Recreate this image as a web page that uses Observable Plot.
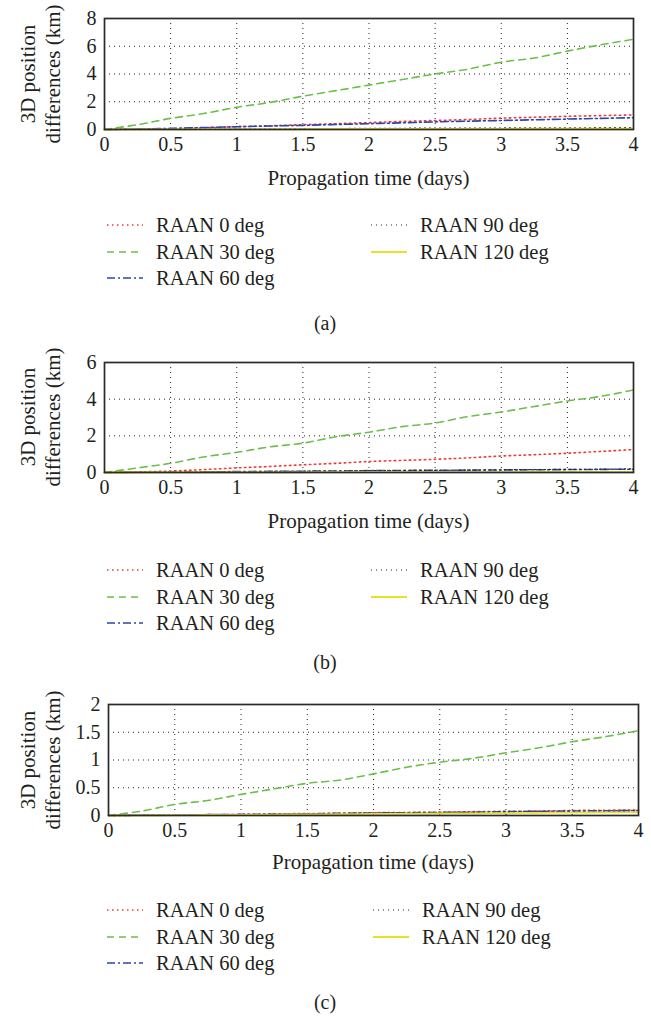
<!DOCTYPE html>
<html>
<head>
<meta charset="utf-8">
<script src="https://cdn.jsdelivr.net/npm/d3@7"></script>
<script src="https://cdn.jsdelivr.net/npm/@observablehq/plot@0.6"></script>
<style>
  html, body { margin: 0; padding: 0; background: #fff; }
  #root { position: relative; width: 651px; height: 1017px; font-family: "Liberation Serif", "DejaVu Serif", serif; color: #231f20; }
  .abs { position: absolute; }
  .xlab { font-size: 21px; text-align: center; white-space: nowrap; transform: translate(-50%, -50%); }
  .ylab { font-size: 21px; white-space: nowrap; transform: translate(-50%, -50%) rotate(-90deg); }
  .leg { font-size: 20.5px; white-space: nowrap; transform: translateY(-50%); }
  .cap { font-size: 20px; transform: translate(-50%, -50%); }
</style>
</head>
<body>
<div id="root"></div>
<script>
// ---------- data ----------
const days = [0, 0.25, 0.5, 0.75, 1, 1.25, 1.5, 1.75, 2, 2.25, 2.5, 2.75, 3, 3.25, 3.5, 3.75, 4];
const seriesNames = ["RAAN 0 deg", "RAAN 30 deg", "RAAN 60 deg", "RAAN 90 deg", "RAAN 120 deg"];
const xTicks = [0, 0.5, 1, 1.5, 2, 2.5, 3, 3.5, 4];

// panel (a)
const a_raan0   = [0, 0.02, 0.06, 0.12, 0.2, 0.27, 0.35, 0.42, 0.5, 0.58, 0.65, 0.72, 0.82, 0.88, 0.95, 1.0, 1.05];
const a_raan30  = [0, 0.35, 0.8, 1.15, 1.6, 1.95, 2.4, 2.8, 3.2, 3.6, 4.0, 4.35, 4.85, 5.15, 5.65, 6.1, 6.5];
const a_raan60  = [0, 0.03, 0.08, 0.14, 0.2, 0.25, 0.3, 0.36, 0.42, 0.48, 0.55, 0.6, 0.65, 0.7, 0.75, 0.8, 0.85];
const a_raan90  = [0, 0.01, 0.02, 0.03, 0.04, 0.05, 0.06, 0.07, 0.08, 0.09, 0.1, 0.1, 0.11, 0.12, 0.12, 0.13, 0.14];
const a_raan120 = [0, 0.01, 0.01, 0.02, 0.02, 0.03, 0.03, 0.04, 0.04, 0.04, 0.05, 0.05, 0.05, 0.06, 0.06, 0.06, 0.07];
const a_yTicks = [0, 2, 4, 6, 8];

// panel (b)
const b_raan0   = [0, 0.03, 0.08, 0.16, 0.25, 0.33, 0.42, 0.5, 0.6, 0.66, 0.72, 0.8, 0.9, 0.97, 1.05, 1.15, 1.25];
const b_raan30  = [0, 0.25, 0.5, 0.85, 1.1, 1.4, 1.6, 1.95, 2.2, 2.5, 2.7, 3.05, 3.3, 3.6, 3.9, 4.15, 4.5];
const b_raan60  = [0, 0.01, 0.02, 0.03, 0.05, 0.06, 0.07, 0.08, 0.1, 0.11, 0.12, 0.13, 0.14, 0.15, 0.16, 0.17, 0.18];
const b_raan90  = [0, 0.01, 0.02, 0.03, 0.05, 0.06, 0.07, 0.08, 0.1, 0.11, 0.12, 0.13, 0.15, 0.16, 0.17, 0.18, 0.2];
const b_raan120 = [0, 0, 0.01, 0.01, 0.01, 0.01, 0.01, 0.02, 0.02, 0.02, 0.02, 0.02, 0.02, 0.03, 0.03, 0.03, 0.03];
const b_yTicks = [0, 2, 4, 6];

// panel (c)
const c_raan0   = [0, 0.005, 0.01, 0.015, 0.02, 0.03, 0.035, 0.04, 0.05, 0.055, 0.06, 0.07, 0.075, 0.08, 0.09, 0.095, 0.1];
const c_raan30  = [0, 0.08, 0.2, 0.27, 0.38, 0.48, 0.58, 0.64, 0.75, 0.87, 0.96, 1.03, 1.13, 1.22, 1.33, 1.42, 1.53];
const c_raan60  = [0, 0.005, 0.01, 0.015, 0.02, 0.025, 0.03, 0.04, 0.045, 0.05, 0.055, 0.06, 0.07, 0.075, 0.08, 0.085, 0.09];
const c_raan90  = [0, 0.004, 0.008, 0.012, 0.016, 0.02, 0.025, 0.03, 0.035, 0.04, 0.045, 0.05, 0.055, 0.06, 0.065, 0.07, 0.08];
const c_raan120 = [0, 0.003, 0.006, 0.01, 0.013, 0.016, 0.02, 0.024, 0.028, 0.032, 0.036, 0.04, 0.044, 0.048, 0.052, 0.056, 0.06];
const c_yTicks = [0, 0.5, 1, 1.5, 2];

// ---------- styles ----------
const styles = {
  "RAAN 0 deg":   {stroke: "#ee3a3a", dash: "1.5,3.5", width: 1.6},
  "RAAN 30 deg":  {stroke: "#6cc04a", dash: "7,5", width: 1.6},
  "RAAN 60 deg":  {stroke: "#2e46a6", dash: "8,3,2,3", width: 1.6},
  "RAAN 90 deg":  {stroke: "#222222", dash: "1,4", width: 1.2},
  "RAAN 120 deg": {stroke: "#e6e22a", dash: null, width: 1.8}
};

const root = document.getElementById("root");

function addDiv(cls, text, x, y) {
  const d = document.createElement("div");
  d.className = "abs " + cls;
  d.textContent = text;
  d.style.left = x + "px";
  d.style.top = y + "px";
  root.appendChild(d);
  return d;
}

function panel(cfg) {
  const rows = [];
  seriesNames.forEach((s, i) => {
    cfg.values[i].forEach((v, j) => rows.push({t: days[j], v, s}));
  });
  const marginTop = 10, marginBottom = 40;
  const height = (cfg.y0 - cfg.yTop) + marginTop + marginBottom;
  const plot = Plot.plot({
    width: 651,
    height,
    marginTop,
    marginBottom,
    marginLeft: cfg.left,
    marginRight: 651 - cfg.right,
    style: {fontFamily: '"Liberation Serif", "DejaVu Serif", serif', fontSize: "20px", color: "#231f20", background: "transparent", overflow: "visible"},
    x: {domain: [0, 4]},
    y: {domain: [0, cfg.yTicks[cfg.yTicks.length - 1]]},
    marks: [
      Plot.gridX(xTicks, {stroke: "#222", strokeOpacity: 1, strokeDasharray: "1,4"}),
      Plot.gridY(cfg.yTicks, {stroke: "#222", strokeOpacity: 1, strokeDasharray: "1,4"}),
      ...seriesNames.map(s => Plot.line(rows.filter(r => r.s === s), {
        x: "t", y: "v",
        stroke: styles[s].stroke,
        strokeWidth: styles[s].width,
        strokeDasharray: styles[s].dash,
        curve: "catmull-rom"
      })),
      Plot.frame({stroke: "#2a2a2a", strokeWidth: 1.7}),
      Plot.axisX(xTicks, {tickSize: 0, tickPadding: 7, label: null, tickFormat: d => String(d)}),
      Plot.axisY(cfg.yTicks, {tickSize: 0, tickPadding: 8, label: null, tickFormat: d => String(d)})
    ]
  });
  plot.style.position = "absolute";
  plot.style.left = "0px";
  plot.style.top = (cfg.yTop - marginTop) + "px";
  root.appendChild(plot);

  const cx = (cfg.left + cfg.right) / 2;
  const cy = (cfg.yTop + cfg.y0) / 2;
  addDiv("xlab", "Propagation time (days)", cx, cfg.xLabelY);
  addDiv("ylab", "3D position", 28, cy);
  addDiv("ylab", "differences (km)", 53, cy);

  // legend
  const legendItems = [
    {s: "RAAN 0 deg", col: 0, row: 0},
    {s: "RAAN 30 deg", col: 0, row: 1},
    {s: "RAAN 60 deg", col: 0, row: 2},
    {s: "RAAN 90 deg", col: 1, row: 0},
    {s: "RAAN 120 deg", col: 1, row: 1}
  ];
  const colX = [cfg.legX0, cfg.legX1];
  legendItems.forEach(it => {
    const y = cfg.legY[it.row];
    const x = colX[it.col];
    const ns = "http://www.w3.org/2000/svg";
    const svg = document.createElementNS(ns, "svg");
    svg.setAttribute("width", 36);
    svg.setAttribute("height", 8);
    svg.style.position = "absolute";
    svg.style.left = x + "px";
    svg.style.top = (y - 4) + "px";
    const ln = document.createElementNS(ns, "line");
    ln.setAttribute("x1", 0); ln.setAttribute("x2", 36);
    ln.setAttribute("y1", 4); ln.setAttribute("y2", 4);
    ln.setAttribute("stroke", styles[it.s].stroke);
    ln.setAttribute("stroke-width", styles[it.s].width);
    if (styles[it.s].dash) ln.setAttribute("stroke-dasharray", styles[it.s].dash);
    svg.appendChild(ln);
    root.appendChild(svg);
    addDiv("leg", it.s, x + 49, y);
  });
  addDiv("cap", cfg.caption, 325, cfg.capY);
}

panel({
  values: [a_raan0, a_raan30, a_raan60, a_raan90, a_raan120],
  yTicks: a_yTicks, yTop: 18, y0: 129, left: 104, right: 633,
  xLabelY: 178, legY: [225, 252, 278], legX0: 107, legX1: 371, capY: 323, caption: "(a)"
});
panel({
  values: [b_raan0, b_raan30, b_raan60, b_raan90, b_raan120],
  yTicks: b_yTicks, yTop: 362, y0: 472, left: 104, right: 633,
  xLabelY: 521, legY: [570, 597, 623], legX0: 107, legX1: 371, capY: 662, caption: "(b)"
});
panel({
  values: [c_raan0, c_raan30, c_raan60, c_raan90, c_raan120],
  yTicks: c_yTicks, yTop: 704, y0: 815, left: 108, right: 638,
  xLabelY: 862, legY: [910, 937, 963], legX0: 107, legX1: 373, capY: 1002, caption: "(c)"
});
</script>
</body>
</html>
